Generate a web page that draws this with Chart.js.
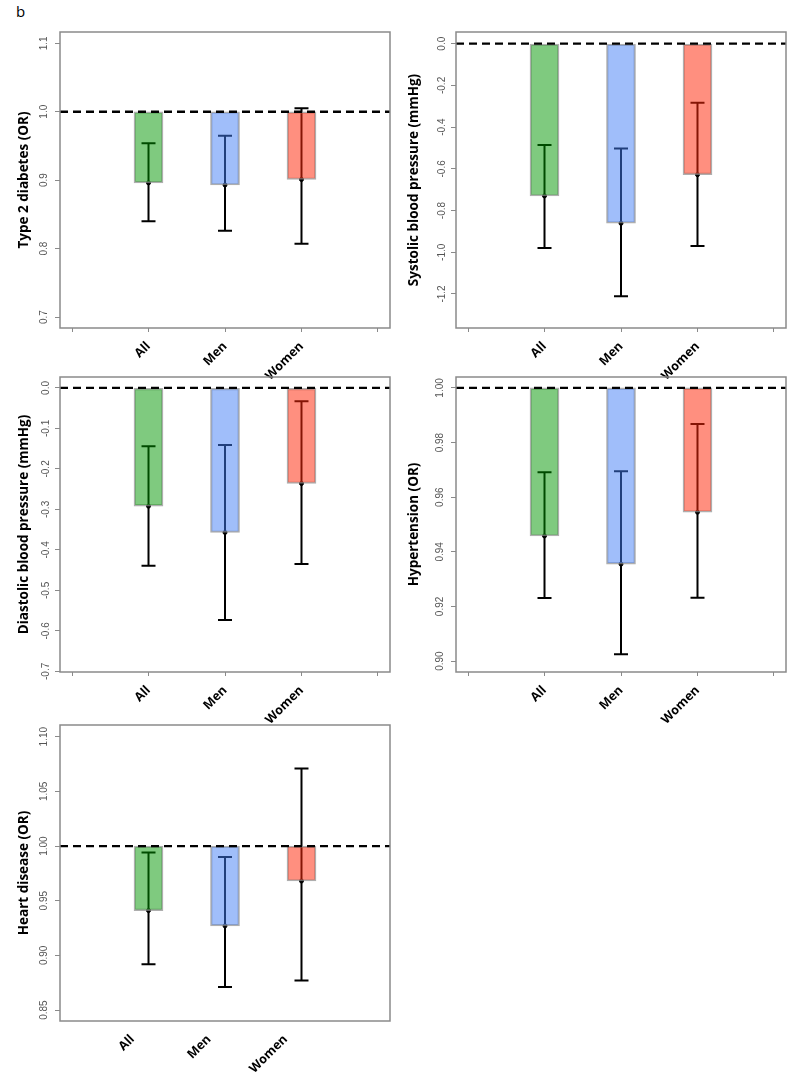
<!DOCTYPE html>
<html>
<head>
<meta charset="utf-8">
<script src="https://cdn.jsdelivr.net/npm/chart.js@4.4.1/dist/chart.umd.min.js"></script>
<style>
  body { margin: 0; background: #fff; width: 800px; height: 1073px; position: relative; overflow: hidden; font-family: 'Open Sans', sans-serif; }
  canvas { position: absolute; }
  #tag { position: absolute; left: 16px; top: 0px; font-size: 15px; line-height: 22px; color: #000; }
</style>
</head>
<body>
<div id="tag">b</div>
<canvas id="c1" width="400" height="390" style="left:0;top:0"></canvas>
<canvas id="c2" width="400" height="390" style="left:400px;top:0"></canvas>
<canvas id="c3" width="400" height="390" style="left:0;top:345px"></canvas>
<canvas id="c4" width="400" height="390" style="left:400px;top:345px"></canvas>
<canvas id="c5" width="400" height="380" style="left:0;top:693px"></canvas>
<script>
// groups on the x axis
const groups = ['All', 'Men', 'Women'];

// Type 2 diabetes (OR)
const t2dEst = [0.896, 0.893, 0.901];
const t2dLo  = [0.840, 0.826, 0.807];
const t2dHi  = [0.954, 0.965, 1.005];
const t2dTicks = [0.7, 0.8, 0.9, 1.0, 1.1];
const t2dTickLabels = ['0.7', '0.8', '0.9', '1.0', '1.1'];

// Systolic blood pressure (mmHg)
const sbpEst = [-0.730, -0.861, -0.628];
const sbpLo  = [-0.979, -1.211, -0.970];
const sbpHi  = [-0.486, -0.503, -0.283];
const sbpTicks = [-1.2, -1.0, -0.8, -0.6, -0.4, -0.2, 0.0];
const sbpTickLabels = ['-1.2', '-1.0', '-0.8', '-0.6', '-0.4', '-0.2', '0.0'];

// Diastolic blood pressure (mmHg)
const dbpEst = [-0.292, -0.357, -0.236];
const dbpLo  = [-0.439, -0.573, -0.435];
const dbpHi  = [-0.144, -0.141, -0.033];
const dbpTicks = [-0.7, -0.6, -0.5, -0.4, -0.3, -0.2, -0.1, 0.0];
const dbpTickLabels = ['-0.7', '-0.6', '-0.5', '-0.4', '-0.3', '-0.2', '-0.1', '0.0'];

// Hypertension (OR)
const htnEst = [0.9458, 0.9355, 0.9545];
const htnLo  = [0.9231, 0.9025, 0.9232];
const htnHi  = [0.9691, 0.9695, 0.9868];
const htnTicks = [0.90, 0.92, 0.94, 0.96, 0.98, 1.00];
const htnTickLabels = ['0.90', '0.92', '0.94', '0.96', '0.98', '1.00'];

// Heart disease (OR)
const hdEst = [0.941, 0.927, 0.968];
const hdLo  = [0.892, 0.871, 0.877];
const hdHi  = [0.994, 0.990, 1.071];
const hdTicks = [0.85, 0.90, 0.95, 1.00, 1.05, 1.10];
const hdTickLabels = ['0.85', '0.90', '0.95', '1.00', '1.05', '1.10'];

const barFill = ['rgba(0,150,0,0.5)', 'rgba(65,125,245,0.5)', 'rgba(255,40,10,0.52)'];

// error bars under the bars, dashed reference line + frame on top
const errorBars = {
  id: 'errorBars',
  beforeDatasetsDraw(chart, args, o) {
    const { ctx, scales: { x, y } } = chart;
    ctx.save();
    ctx.strokeStyle = '#000';
    ctx.lineWidth = 2;
    o.lo.forEach((lo, i) => {
      const px = x.getPixelForValue(i + 1);
      const yl = y.getPixelForValue(lo);
      const yh = y.getPixelForValue(o.hi[i]);
      ctx.beginPath();
      ctx.moveTo(px, yl); ctx.lineTo(px, yh);
      ctx.moveTo(px - 7, yl); ctx.lineTo(px + 7, yl);
      ctx.moveTo(px - 7, yh); ctx.lineTo(px + 7, yh);
      ctx.stroke();
    });
    ctx.restore();
  },
  afterDatasetsDraw(chart, args, o) {
    const { ctx, chartArea: a, scales: { y } } = chart;
    const py = y.getPixelForValue(o.ref);
    ctx.save();
    ctx.strokeStyle = '#000';
    ctx.lineWidth = 2.3;
    ctx.setLineDash([8, 5]);
    ctx.beginPath();
    ctx.moveTo(a.left, py); ctx.lineTo(a.right, py);
    ctx.stroke();
    ctx.setLineDash([]);
    ctx.strokeStyle = '#8a8a8a';
    ctx.lineWidth = 1.5;
    ctx.strokeRect(a.left, a.top, a.right - a.left, a.bottom - a.top);
    ctx.restore();
  }
};

function makePanel(id, p) {
  new Chart(document.getElementById(id), {
    data: {
      datasets: [
        {
          type: 'bar',
          data: groups.map((g, i) => ({ x: i + 1, y: [p.ref, p.est[i]] })),
          backgroundColor: barFill,
          borderColor: 'rgba(140,140,140,0.7)',
          borderWidth: 1.5,
          borderSkipped: false,
          barThickness: 29,
          order: 1
        },
        {
          type: 'scatter',
          data: groups.map((g, i) => ({ x: i + 1, y: p.est[i] })),
          pointRadius: 2,
          backgroundColor: '#000',
          borderColor: '#000',
          order: 2
        }
      ]
    },
    options: {
      responsive: false,
      animation: false,
      devicePixelRatio: 1,
      layout: { padding: { top: 32, right: p.right, left: 0, bottom: 0 } },
      plugins: {
        legend: { display: false },
        tooltip: { enabled: false },
        errorBars: { lo: p.lo, hi: p.hi, ref: p.ref }
      },
      scales: {
        x: {
          type: 'linear',
          offset: false,
          min: -0.157, max: 4.157,
          afterBuildTicks: s => { s.ticks = [0, 1, 2, 3, 4].map(v => ({ value: v })); },
          afterFit: s => { s.height = p.xh; },
          border: { display: false },
          grid: { display: p.xgrid, offset: false, drawOnChartArea: false, tickLength: 4, color: '#8a8a8a' },
          ticks: {
            autoSkip: false,
            minRotation: 45, maxRotation: 45,
            padding: 7,
            labelOffset: p.labelShift,
            color: '#000',
            font: { family: 'Open Sans', weight: 'bold', size: 12.5 },
            callback: v => groups[v - 1] || ''
          }
        },
        y: {
          min: p.min, max: p.max,
          afterBuildTicks: s => { s.ticks = p.ticks.map(v => ({ value: v })); },
          afterFit: s => { s.width = p.yw; },
          border: { display: false },
          grid: { drawOnChartArea: false, tickLength: 5, color: '#8a8a8a' },
          ticks: {
            minRotation: 90, maxRotation: 90,
            crossAlign: 'center',
            padding: p.tickPad,
            color: '#555',
            font: { family: 'Liberation Sans', size: 10 },
            callback: (v, i) => p.tickLabels[i]
          },
          title: {
            display: true,
            text: p.title,
            color: '#000',
            padding: { top: p.titlePad, bottom: 0 },
            font: { family: 'Open Sans', weight: 'bold', size: 13.5 }
          }
        }
      }
    },
    plugins: [errorBars]
  });
}

makePanel('c1', { est: t2dEst, lo: t2dLo, hi: t2dHi, ref: 1, min: 0.684, max: 1.1165,
  ticks: t2dTicks, tickLabels: t2dTickLabels, title: 'Type 2 diabetes (OR)',
  yw: 60, xh: 62, right: 10, tickPad: 4, titlePad: 16, xgrid: true, labelShift: 0 });

makePanel('c2', { est: sbpEst, lo: sbpLo, hi: sbpHi, ref: 0, min: -1.363, max: 0.056,
  ticks: sbpTicks, tickLabels: sbpTickLabels, title: 'Systolic blood pressure (mmHg)',
  yw: 56, xh: 62, right: 14, tickPad: 0, titlePad: 6, xgrid: true, labelShift: 0 });

makePanel('c3', { est: dbpEst, lo: dbpLo, hi: dbpHi, ref: 0, min: -0.7015, max: 0.027,
  ticks: dbpTicks, tickLabels: dbpTickLabels, title: 'Diastolic blood pressure (mmHg)',
  yw: 60, xh: 63, right: 10, tickPad: 0, titlePad: 16, xgrid: true, labelShift: 0 });

makePanel('c4', { est: htnEst, lo: htnLo, hi: htnHi, ref: 1, min: 0.896, max: 1.004,
  ticks: htnTicks, tickLabels: htnTickLabels, title: 'Hypertension (OR)',
  yw: 56, xh: 63, right: 14, tickPad: 1, titlePad: 6, xgrid: true, labelShift: 0 });

makePanel('c5', { est: hdEst, lo: hdLo, hi: hdHi, ref: 1, min: 0.84, max: 1.1107,
  ticks: hdTicks, tickLabels: hdTickLabels, title: 'Heart disease (OR)',
  yw: 60, xh: 52, right: 10, tickPad: 1, titlePad: 16, xgrid: false, labelShift: -16 });
</script>
</body>
</html>
